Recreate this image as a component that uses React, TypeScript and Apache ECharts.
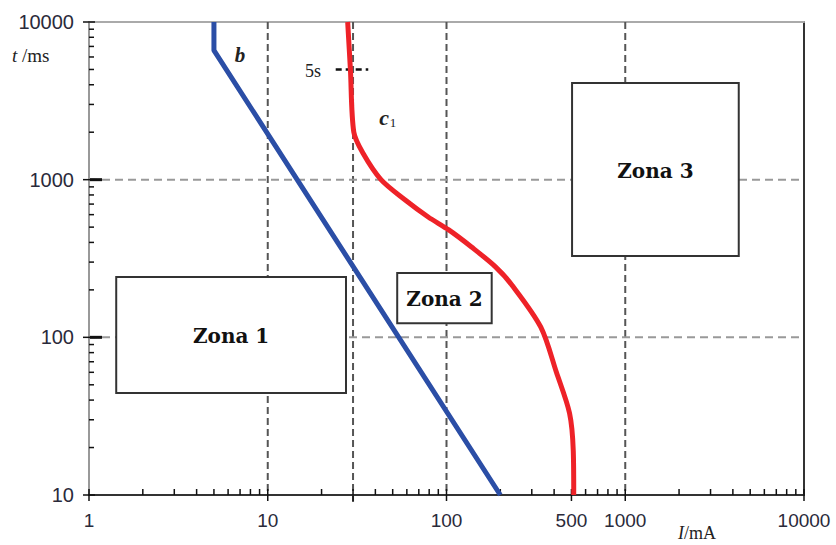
import React, { useEffect, useRef } from "react";
import * as echarts from "echarts";

// ---- data ----
const curveB: [number, number][] = [
  [5, 10000],
  [5, 6600],
  [200, 10],
];
const curveC1: [number, number][] = [
  [28, 10000],
  [29, 5000],
  [30.3, 2000],
  [34, 1480],
  [43, 1000],
  [59, 740],
  [79, 580],
  [103, 480],
  [138, 374],
  [188, 280],
  [232, 215],
  [337, 116],
  [412, 60],
  [488, 33],
  [512, 19],
  [515, 10],
];
const fiveSecMarker: [number, number][] = [
  [24, 5000],
  [36.5, 5000],
];

const xTickLabelValues = [1, 10, 100, 500, 1000, 10000];
const xMajorTicks = [1, 10, 30, 100, 500, 1000, 10000];
const xMinorTicks = [2, 3, 4, 5, 6, 7, 8, 9, 20, 40, 50, 60, 70, 80, 90, 200, 300, 400, 600, 700, 800, 900, 2000, 3000, 4000, 5000, 6000, 7000, 8000, 9000];
const yMajorTicks = [10, 100, 1000, 10000];
const yMinorTicks = [20, 30, 40, 50, 60, 70, 80, 90, 200, 300, 400, 500, 600, 700, 800, 900, 2000, 3000, 4000, 5000, 6000, 7000, 8000, 9000];
const xGridValues = [10, 30, 100, 1000];
const yGridValues = [100, 1000];

const zoneNames = ["Zona 1", "Zona 2", "Zona 3"];
const zoneIMin = [1.42, 53, 504];
const zoneIMax = [27.4, 179, 4315];
const zoneTMax = [241, 256, 4100];
const zoneTMin = [44.4, 123, 328];

const TICK = "#111";
const LABEL_FONT = "19px 'Liberation Sans', Arial, sans-serif";

export default function App() {
  const ref = useRef<HTMLDivElement>(null);

  useEffect(() => {
    if (!ref.current) return;
    const chart = echarts.init(ref.current, undefined, { renderer: "svg" });

    const zoneData = zoneNames.map((n, i) => [zoneIMin[i], zoneTMax[i], zoneIMax[i], zoneTMin[i], n]);

    const option: any = {
      animation: false,
      backgroundColor: "#ffffff",
      grid: { left: 89, right: 32, top: 22, bottom: 50 },
      xAxis: [
        {
          type: "log",
          logBase: 10,
          min: 1,
          max: 10000,
          axisLine: { onZero: false, lineStyle: { color: "#333", width: 2 } },
          axisTick: { show: false },
          axisLabel: { show: false },
          splitLine: { show: false },
        },
        {
          type: "log",
          logBase: 10,
          position: "top",
          min: 1,
          max: 10000,
          axisLine: { onZero: false, lineStyle: { color: "#aaa", width: 2 } },
          axisTick: { show: false },
          axisLabel: { show: false },
          splitLine: { show: false },
        },
      ],
      yAxis: [
        {
          type: "log",
          logBase: 10,
          min: 10,
          max: 10000,
          axisLine: { onZero: false, lineStyle: { color: "#999", width: 2 } },
          axisTick: { show: false },
          axisLabel: {
            formatter: (v: number) => String(Math.round(v)),
            fontSize: 20,
            fontFamily: "'Liberation Sans', Arial, sans-serif",
            color: "#2a2a3a",
            margin: 15,
          },
          splitLine: { show: false },
        },
        {
          type: "log",
          logBase: 10,
          position: "right",
          min: 10,
          max: 10000,
          axisLine: { onZero: false, lineStyle: { color: "#333", width: 2 } },
          axisTick: { show: false },
          axisLabel: { show: false },
          splitLine: { show: false },
        },
      ],
      series: [
        // vertical grid lines
        {
          type: "custom",
          z: 1,
          silent: true,
          data: xGridValues.map((v) => [v, 10]),
          renderItem: (_p: any, api: any) => {
            const v = api.value(0);
            const top = api.coord([v, 10000]);
            const bot = api.coord([v, 10]);
            return {
              type: "line",
              shape: { x1: top[0], y1: top[1], x2: bot[0], y2: bot[1] + (v === 30 ? 8 : 0) },
              style: { stroke: "#555", lineWidth: 2, lineDash: [7, 4] },
            };
          },
        },
        // horizontal grid lines
        {
          type: "custom",
          z: 1,
          silent: true,
          data: yGridValues.map((v) => [1, v]),
          renderItem: (_p: any, api: any) => {
            const v = api.value(1);
            const l = api.coord([1, v]);
            const r = api.coord([10000, v]);
            return {
              type: "line",
              shape: { x1: l[0], y1: l[1], x2: r[0], y2: r[1] },
              style: { stroke: "#999", lineWidth: 2, lineDash: [8, 5] },
            };
          },
        },
        // zone boxes
        {
          type: "custom",
          z: 3,
          silent: true,
          data: zoneData,
          renderItem: (_p: any, api: any) => {
            const a = api.coord([api.value(0), api.value(1)]);
            const b = api.coord([api.value(2), api.value(3)]);
            const name = zoneNames[_p.dataIndex];
            return {
              type: "group",
              children: [
                {
                  type: "rect",
                  shape: { x: a[0], y: a[1], width: b[0] - a[0], height: b[1] - a[1] },
                  style: { fill: "#fff", stroke: "#333", lineWidth: 2 },
                },
                {
                  type: "text",
                  style: {
                    text: name,
                    x: (a[0] + b[0]) / 2,
                    y: (a[1] + b[1]) / 2 + 1,
                    align: "center",
                    verticalAlign: "middle",
                    font: "bold 20px 'DejaVu Serif', serif",
                    fill: "#111",
                  },
                },
              ],
            };
          },
        },
        // x minor ticks
        {
          type: "custom",
          z: 4,
          silent: true,
          data: xMinorTicks.map((v) => [v, 10]),
          renderItem: (_p: any, api: any) => {
            const p = api.coord([api.value(0), api.value(1)]);
            return {
              type: "line",
              shape: { x1: p[0], y1: p[1], x2: p[0], y2: p[1] - 6 },
              style: { stroke: TICK, lineWidth: 1.5 },
            };
          },
        },
        // x major ticks
        {
          type: "custom",
          z: 4,
          silent: true,
          data: xMajorTicks.map((v) => [v, 10]),
          renderItem: (_p: any, api: any) => {
            const p = api.coord([api.value(0), api.value(1)]);
            return {
              type: "line",
              shape: { x1: p[0], y1: p[1] - 6, x2: p[0], y2: p[1] + 6 },
              style: { stroke: TICK, lineWidth: 1.5 },
            };
          },
        },
        // y minor ticks
        {
          type: "custom",
          z: 4,
          silent: true,
          data: yMinorTicks.map((v) => [1, v]),
          renderItem: (_p: any, api: any) => {
            const p = api.coord([api.value(0), api.value(1)]);
            return {
              type: "line",
              shape: { x1: p[0], y1: p[1], x2: p[0] + 5, y2: p[1] },
              style: { stroke: TICK, lineWidth: 1.5 },
            };
          },
        },
        // y major ticks
        {
          type: "custom",
          z: 4,
          silent: true,
          data: yMajorTicks.map((v) => [1, v]),
          renderItem: (_p: any, api: any) => {
            const v = api.value(1);
            const p = api.coord([1, v]);
            const children: any[] = [
              {
                type: "line",
                shape: { x1: p[0] - 6, y1: p[1], x2: p[0] + 6, y2: p[1] },
                style: { stroke: TICK, lineWidth: 1.5 },
              },
            ];
            if (yGridValues.indexOf(v) >= 0) {
              children.push({
                type: "line",
                shape: { x1: p[0] + 1, y1: p[1], x2: p[0] + 13, y2: p[1] },
                style: { stroke: TICK, lineWidth: 3 },
              });
            }
            return { type: "group", children };
          },
        },
        // x tick labels
        {
          type: "custom",
          z: 6,
          silent: true,
          data: xTickLabelValues.map((v) => [v, 10]),
          renderItem: (_p: any, api: any) => {
            const v = api.value(0);
            const p = api.coord([v, 10]);
            return {
              type: "text",
              style: {
                text: String(v),
                x: p[0],
                y: p[1] + 25,
                align: "center",
                verticalAlign: "middle",
                font: LABEL_FONT,
                fill: "#2a2a3a",
              },
            };
          },
        },
        // 5 s marker
        {
          type: "line",
          z: 4,
          silent: true,
          symbol: "none",
          data: fiveSecMarker,
          lineStyle: { color: "#111", width: 2.5, type: [6, 4] },
        },
        // curve b
        {
          name: "b",
          type: "line",
          z: 5,
          silent: true,
          symbol: "none",
          data: curveB,
          lineStyle: { color: "#2b4ea6", width: 5 },
        },
        // curve c1
        {
          name: "c1",
          type: "line",
          z: 5,
          silent: true,
          symbol: "none",
          smooth: 0.3,
          data: curveC1,
          lineStyle: { color: "#ee2228", width: 5 },
        },
      ],
      graphic: [
        {
          type: "text",
          x: 12,
          y: 55,
          style: {
            text: "{i|t} /ms",
            verticalAlign: "middle",
            font: "19px 'Liberation Serif', 'Times New Roman', serif",
            fill: "#222",
            rich: { i: { fontStyle: "italic", fontFamily: "'Liberation Serif', serif", fontSize: 19 } },
          },
        },
        {
          type: "text",
          x: 678,
          y: 533,
          style: {
            text: "{i|I}/mA",
            verticalAlign: "middle",
            font: "18px 'Liberation Serif', 'Times New Roman', serif",
            fill: "#222",
            rich: { i: { fontStyle: "italic", fontFamily: "'Liberation Serif', serif", fontSize: 18 } },
          },
        },
        {
          type: "text",
          x: 240,
          y: 55,
          style: {
            text: "b",
            align: "center",
            verticalAlign: "middle",
            font: "italic bold 21px 'Liberation Serif', serif",
            fill: "#222",
          },
        },
        {
          type: "text",
          x: 384,
          y: 117,
          style: {
            text: "c",
            align: "center",
            verticalAlign: "middle",
            font: "italic bold 22px 'Liberation Serif', serif",
            fill: "#222",
          },
        },
        {
          type: "text",
          x: 393,
          y: 122,
          style: {
            text: "1",
            align: "center",
            verticalAlign: "middle",
            font: "13px 'Liberation Serif', serif",
            fill: "#222",
          },
        },
        {
          type: "text",
          x: 313,
          y: 71,
          style: {
            text: "5s",
            align: "center",
            verticalAlign: "middle",
            font: "18px 'Liberation Serif', serif",
            fill: "#222",
          },
        },
      ],
    };

    chart.setOption(option);
    return () => chart.dispose();
  }, []);

  return (
    <div
      ref={ref}
      style={{ position: "fixed", left: 0, top: 0, width: 836, height: 545, background: "#fff" }}
    />
  );
}
